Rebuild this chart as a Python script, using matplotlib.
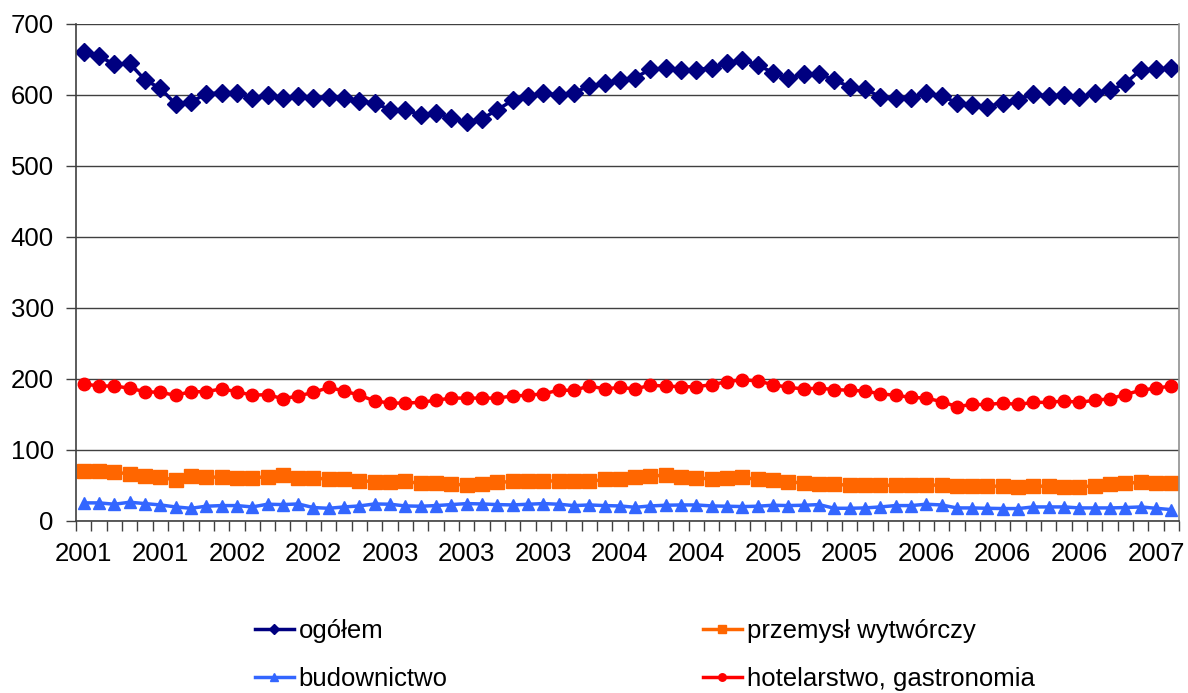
import numpy as np
import matplotlib
matplotlib.use('Agg')
import matplotlib.pyplot as plt
from matplotlib.lines import Line2D

plt.rcParams['font.family'] = ['Liberation Sans', 'DejaVu Sans']

# monthly values, 72 points
ogolem = [660, 654, 643, 644, 621, 609, 587, 590, 601, 603, 603, 595,
          600, 595, 598, 595, 597, 596, 591, 588, 579, 578, 572, 574,
          567, 561, 566, 579, 592, 598, 602, 600, 603, 612, 616, 621,
          624, 636, 637, 635, 635, 638, 644, 649, 642, 631, 623, 629,
          629, 621, 611, 608, 597, 595, 596, 602, 598, 589, 586, 583,
          589, 593, 601, 598, 600, 597, 602, 606, 616, 635, 636, 637]
przemysl = [70.8, 70.8, 68.4, 66.5, 63.2, 61.8, 57.5, 62.7, 62.3, 61.3, 60.4, 60.8,
            62.3, 64.2, 60.4, 60.4, 59.0, 58.5, 57.0, 55.2, 55.2, 55.7, 52.8, 53.3,
            51.4, 51.0, 51.9, 54.2, 55.7, 55.7, 56.6, 56.1, 56.1, 55.7, 58.5, 59.0,
            62.3, 63.2, 64.6, 61.3, 60.4, 59.4, 60.8, 61.3, 58.5, 57.5, 55.2, 53.3,
            52.4, 51.4, 50.5, 50.0, 50.0, 50.5, 50.5, 50.5, 50.5, 49.0, 49.0, 49.0,
            49.0, 48.0, 49.0, 49.0, 48.0, 48.0, 49.5, 51.4, 52.8, 54.7, 53.8, 53.3]
budownictwo = [25.5, 25.5, 23.6, 26.4, 24.5, 22.6, 19.8, 17.9, 20.8, 21.7, 21.7, 19.8,
               23.6, 23.1, 24.0, 18.9, 17.9, 19.8, 21.2, 24.0, 23.6, 21.2, 20.8, 21.7,
               23.1, 24.5, 24.0, 23.1, 22.6, 23.6, 24.5, 23.6, 21.7, 22.6, 21.7, 21.2,
               19.3, 21.2, 22.2, 22.6, 22.6, 21.2, 20.8, 20.3, 20.8, 22.2, 21.7, 22.2,
               23.1, 17.9, 17.9, 18.4, 19.8, 21.7, 21.7, 23.6, 22.6, 18.4, 18.4, 17.9,
               17.5, 17.5, 19.8, 19.8, 19.8, 18.4, 18.4, 18.4, 18.9, 19.8, 17.9, 16.0]
hotelarstwo = [193, 190, 190, 187, 182, 181, 177, 182, 182, 186, 182, 177,
               178, 172, 176, 181, 188, 183, 177, 169, 166, 166, 167, 170,
               173, 173, 173, 173, 176, 177, 179, 184, 184, 190, 186, 188,
               186, 191, 190, 189, 189, 192, 196, 199, 197, 192, 188, 186,
               187, 185, 184, 183, 179, 177, 174, 173, 168, 161, 164, 164,
               166, 164, 167, 167, 169, 167, 170, 172, 178, 184, 187, 190]
tick_labels = ['2001', '2001', '2002', '2002', '2003', '2003', '2003', '2004',
               '2004', '2005', '2005', '2006', '2006', '2006', '2007']

x = np.arange(len(ogolem))
FS = 18.5

fig = plt.figure(figsize=(11.88, 6.93), dpi=100)
ax = fig.add_axes([0.064, 0.2482, 0.9284, 0.7176])

series = [
    (ogolem, 'ogółem', '#000080', 'D', 9),
    (przemysl, 'przemysł wytwórczy', '#FF6600', 's', 10),
    (budownictwo, 'budownictwo', '#3366FF', '^', 9),
    (hotelarstwo, 'hotelarstwo, gastronomia', '#FF0000', 'o', 9),
]
handles = {}
for vals, name, col, mk, ms in series:
    ax.plot(x, vals, color=col, lw=2.5, marker=mk, ms=ms,
            markeredgecolor=col, label=name)
    handles[name] = Line2D([], [], color=col, lw=2.5, marker=mk,
                           ms=ms * 0.6, markeredgecolor=col)

ax.set_xlim(-0.5, 71.5)
ax.set_ylim(0, 700)
ax.set_yticks(np.arange(0, 701, 100))
ax.yaxis.grid(True, color='#404040', lw=1)
ax.set_axisbelow(True)

ax.set_xticks(np.arange(0, 71, 5))
ax.set_xticklabels(tick_labels)
ax.set_xticks(np.arange(-0.5, 72, 1), minor=True)
ax.tick_params(axis='x', which='major', length=0, pad=15, labelsize=FS)
ax.tick_params(axis='x', which='minor', length=7, width=1, color='#404040')
ax.tick_params(axis='y', length=7, width=1, color='#404040', pad=9, labelsize=FS)

ax.spines['top'].set_visible(False)
ax.spines['left'].set_color('#404040')
ax.spines['bottom'].set_color('#404040')
ax.spines['right'].set_color('#909090')
for s in ['left', 'bottom', 'right']:
    ax.spines[s].set_linewidth(1.2)

leg_kw = dict(loc='upper left', frameon=False, fontsize=FS, borderpad=0,
              borderaxespad=0, handlelength=1.5, handletextpad=0.2,
              labelspacing=0.95)
fig.legend([handles['ogółem'], handles['budownictwo']],
           ['ogółem', 'budownictwo'],
           bbox_to_anchor=(255 / 1188, 1 - 619 / 693), **leg_kw)
fig.legend([handles['przemysł wytwórczy'], handles['hotelarstwo, gastronomia']],
           ['przemysł wytwórczy', 'hotelarstwo, gastronomia'],
           bbox_to_anchor=(703 / 1188, 1 - 619 / 693), **leg_kw)

fig.savefig('out.png', dpi=100)
